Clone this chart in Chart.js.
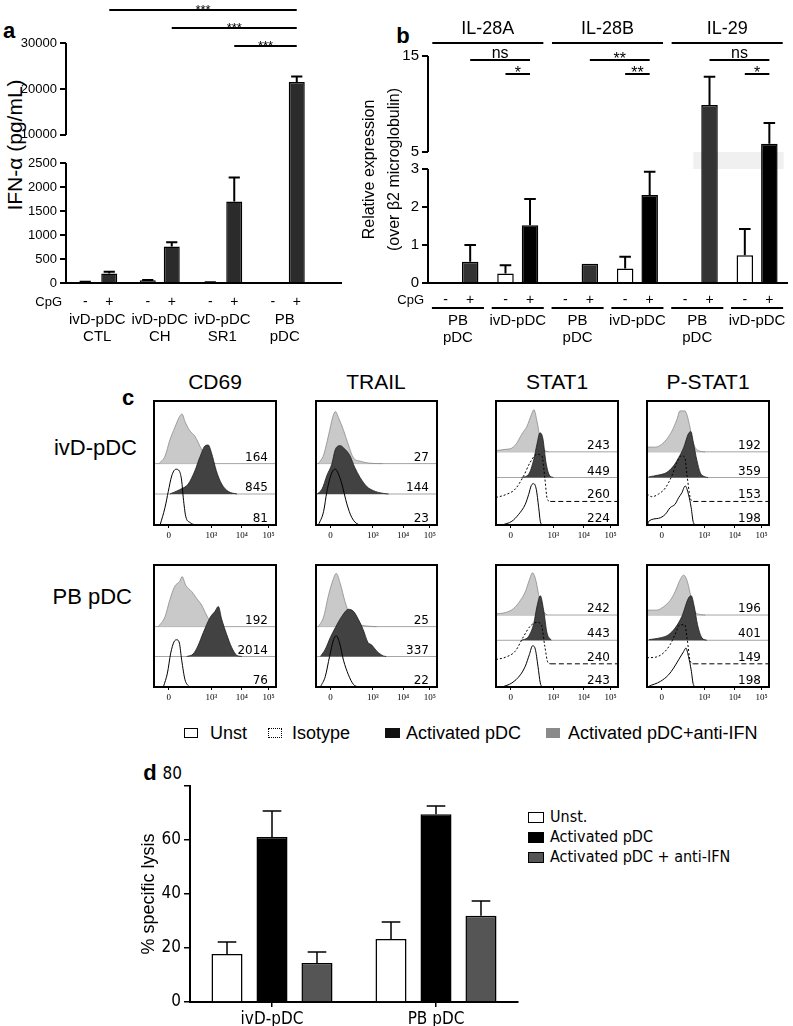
<!DOCTYPE html>
<html>
<head>
<meta charset="utf-8">
<script src="https://cdn.jsdelivr.net/npm/chart.js@4.4.1/dist/chart.umd.min.js"></script>
<style>
  body { margin: 0; background: #fff; }
  #page { position: relative; width: 793px; height: 1026px; overflow: hidden; font-family: "Liberation Sans", Arial, sans-serif; color: #000; }
  canvas { position: absolute; }
  .t { position: absolute; white-space: nowrap; line-height: 1; transform: translate(-50%, -50%); }
  .r { position: absolute; white-space: nowrap; line-height: 1; transform: translate(-100%, -50%); }
  .l { position: absolute; white-space: nowrap; line-height: 1; transform: translate(0, -50%); }
  .sw { position: absolute; box-sizing: border-box; }
  .nar { font-family: "Liberation Sans Narrow", "DejaVu Sans Condensed", "Liberation Sans", sans-serif; }
</style>
</head>
<body>
<div id="page">
  <div class="t" style="left:9px;top:31px;font-size:22px;font-weight:bold">a</div>
  <div class="t" style="left:403px;top:36px;font-size:22px;font-weight:bold">b</div>
  <div class="t" style="left:128px;top:398px;font-size:22px;font-weight:bold">c</div>
  <div class="t" style="left:150px;top:773px;font-size:22px;font-weight:bold">d</div>
  <div class="t" style="left:14px;top:145px;font-size:21px;transform:translate(-50%,-50%) rotate(-90deg)">IFN-α (pg/mL)</div>

  <div class="t" style="left:215px;top:381px;font-size:21px">CD69</div>
  <div class="t" style="left:376px;top:381px;font-size:21px">TRAIL</div>
  <div class="t" style="left:557px;top:381px;font-size:21px">STAT1</div>
  <div class="t" style="left:708px;top:381px;font-size:21px">P-STAT1</div>
  <div class="r" style="left:137px;top:448px;font-size:22px">ivD-pDC</div>
  <div class="r" style="left:132px;top:597px;font-size:22px">PB pDC</div>

  <!-- legend of panel c -->
  <div class="sw" style="left:184px;top:728px;width:14px;height:10px;border:1px solid #000;background:#fff"></div>
  <div class="l" style="left:210px;top:733px;font-size:18px">Unst</div>
  <div class="sw" style="left:268px;top:728px;width:14px;height:10px;border:1px dotted #000;background:#fff"></div>
  <div class="l" style="left:292px;top:733px;font-size:18px">Isotype</div>
  <div class="sw" style="left:385px;top:728px;width:15px;height:10px;background:#111"></div>
  <div class="l" style="left:406px;top:733px;font-size:18px">Activated pDC</div>
  <div class="sw" style="left:546px;top:728px;width:14px;height:10px;background:#8a8a8a"></div>
  <div class="l" style="left:568px;top:733px;font-size:18px">Activated pDC+anti-IFN</div>

  <!-- panel d: top tick label sits beside the letter, legend on the right -->
  <div class="r nar" style="left:182px;top:773px;font-size:17px">80</div>
  <div class="sw" style="left:528px;top:812px;width:16px;height:11px;border:1.5px solid #000;background:#fff"></div>
  <div class="l nar" style="left:550px;top:817px;font-size:16px">Unst.</div>
  <div class="sw" style="left:528px;top:832px;width:16px;height:11px;border:1.5px solid #000;background:#000"></div>
  <div class="l nar" style="left:550px;top:837px;font-size:16px">Activated pDC</div>
  <div class="sw" style="left:528px;top:852px;width:16px;height:11px;border:1.5px solid #000;background:#555"></div>
  <div class="l nar" style="left:550px;top:857px;font-size:16px">Activated pDC + anti-IFN</div>
</div>

<script>
// ---------- panel a : IFN-alpha secretion ----------
const groupsA = [['ivD-pDC', 'CTL'], ['ivD-pDC', 'CH'], ['ivD-pDC', 'SR1'], ['PB', 'pDC']];
const ifnMinus = [20, 55, 10, 0];
const ifnMinusErr = [8, 10, 4, 0];
const ifnPlus = [200, 760, 1700, 21500];
const ifnPlusErr = [35, 90, 500, 1200];
const ifnTicks = [0, 500, 1000, 1500, 2000, 2500, 10000, 20000, 30000];
// [dataset, group, dataset, group, label, row]
const sigA = [[1, 0, 1, 3, '***', 0], [1, 1, 1, 3, '***', 1], [1, 2, 1, 3, '***', 2]];

// ---------- panel b : IFN-lambda expression ----------
const genesB = ['IL-28A', 'IL-28B', 'IL-29'];
const cellsB = [['PB', 'pDC'], 'ivD-pDC', ['PB', 'pDC'], 'ivD-pDC', ['PB', 'pDC'], 'ivD-pDC'];
const ifnlMinus = [0, 0.25, 0, 0.38, 0, 0.73];
const ifnlMinusErr = [0, 0.22, 0, 0.31, 0, 0.69];
const ifnlPlus = [0.56, 1.52, 0.51, 2.32, 9.9, 5.87];
const ifnlPlusErr = [0.44, 0.69, 0, 0.61, 2.94, 2.15];
const ifnlTicks = [0, 1, 2, 3, 5, 15];
const sigB = [[1, 0, 1, 1, 'ns', 0], [0, 1, 1, 1, '*', 1], [1, 2, 1, 3, '**', 0],
              [0, 3, 1, 3, '**', 1], [1, 4, 1, 5, 'ns', 0], [0, 5, 1, 5, '*', 1]];

// ---------- panel c : flow histograms, [x % of axis, height % of box] ----------
const flowTickPos = [12, 47, 72, 94];
const flowTickLabels = ['0', '10³', '10⁴', '10⁵'];

const cd69IvdAnti = [[4,0],[9,6],[13,19],[17,29],[21,38],[23,40],[25.4,34],[29,27],[33.6,22],[37.7,14],[42,6],[47,0.5],[50,0]];
const cd69IvdAct = [[13,0],[21,3.5],[28,8],[33.6,19],[37.7,30],[42,39],[44.5,39.5],[47,33.6],[51,19],[55.5,8],[61,2],[68,0]];
const cd69IvdUnst = [[5,0],[9,14],[11.7,27],[14.5,39.5],[18,45],[20.8,43.5],[22.7,35.5],[24,22],[26,7],[29.5,2],[33.6,0]];
const cd69IvdMfi = [164, 845, 81];

const trailIvdAnti = [[2,0],[6.3,7],[10.4,23],[14,38],[16,42],[18.6,37],[22.7,27],[26.8,15],[31,4.6],[36.4,2],[44.7,0.3],[55,0]];
const trailIvdAct = [[1,0],[5,4],[9,15],[13,24],[16,36],[20,39],[24,36],[28,31],[32,21.5],[36.4,13.4],[42,6],[47.4,2.7],[55.6,0.5],[60,0]];
const trailIvdUnst = [[2,0],[6.3,11],[9,27],[13,42],[16,45],[18.6,41],[21.4,33],[25.5,17],[29.6,6],[35,0.5],[39,0]];
const trailIvdMfi = [27, 144, 23];

const stat1IvdAnti = [[0,1],[7.7,2],[13,3],[17,7],[21,14],[25.4,20.7],[29,30],[31,34],[33.6,24.7],[36.3,10],[39,2],[43,0]];
const stat1IvdAct = [[21,0],[26.8,2.7],[31,14.8],[33.6,27],[36,36],[38.3,32],[41,12],[43.7,2],[47,0]];
const stat1IvdIso = [[0,3.2],[7.7,5.4],[15.8,10],[22.7,20.7],[28,31.5],[33.6,38],[37.7,36.5],[40,19],[42,2],[44.5,0],[100,0]];
const stat1IvdUnst = [[5,0],[13,3],[18.6,8.6],[24,16.7],[26.8,24.7],[29,32],[31,33.3],[33,28.8],[35,14],[36.3,3],[37.7,0]];
const stat1IvdMfi = [243, 449, 260, 224];

const pstat1IvdAnti = [[0,0],[0.8,3.8],[6.8,3.8],[12,6],[16,10],[20.4,16.7],[24.5,26],[27,33],[31,33],[32.7,30],[35.4,19],[38,7],[42,1],[47.7,0]];
const pstat1IvdAct = [[1.4,0.5],[9.5,2],[16,4],[21.8,9.4],[25.9,16],[30,24],[34,35.5],[36,37],[38,28],[41,13.4],[43.6,4],[47.7,0.5],[50,0]];
const pstat1IvdIso = [[0,6],[4,3.8],[9.5,6],[15,10.8],[20.4,20.7],[24.5,31.5],[28,36.8],[31,35.5],[32.7,22],[35.4,3.2],[38,0],[100,0]];
const pstat1IvdUnst = [[0.5,0],[1.4,3],[9.5,5.4],[15,8.6],[19,14],[23,16.7],[25.9,22],[28.6,26],[31.3,31.5],[34,24.7],[36.2,14],[38,2],[40,0]];
const pstat1IvdMfi = [192, 359, 153, 198];

const cd69PbAnti = [[3.6,0],[9,8],[13,22],[17,33],[21,37],[23,41],[26,34],[31,28.6],[35,23],[39,17.7],[43,9.5],[47,2.7],[51,0]];
const cd69PbAct = [[26.8,0],[32,2],[36,8.7],[40.4,19.6],[46,32],[50,37],[52.7,41],[55.5,30.5],[59.6,18],[63.7,7.4],[67.8,1],[72,0]];
const cd69PbUnst = [[7.7,0],[11,11.4],[13.7,27.8],[16.4,37],[18.6,38.7],[20.8,36],[22.7,22],[25.4,6],[29,0]];
const cd69PbMfi = [192, 2014, 76];

const trailPbAnti = [[2,0],[6.3,8],[10.4,26],[14.5,39.5],[16.7,43.6],[20,35.4],[24,20.4],[28,9.5],[33.7,2.7],[42,0.5],[50,0]];
const trailPbAct = [[3.6,0],[7.7,6],[11.8,15.5],[16,23.7],[21.4,33],[26.8,38.7],[31,37],[35,30.5],[39,22],[43,11.4],[46,9.5],[50,4.6],[55.6,0.5],[58,0]];
const trailPbUnst = [[3.6,0],[7.7,8.7],[11.2,25],[14.5,38.7],[16.7,42],[19.5,36],[22.7,22],[26.8,10],[31,2],[35,0]];
const trailPbMfi = [25, 337, 22];

const stat1PbAnti = [[0,1],[7.7,2],[14.5,5.4],[20,12],[24,19],[27.3,28.6],[30,34.6],[33,27],[35.5,13.6],[38.3,4],[41.8,0]];
const stat1PbAct = [[21,0],[26.8,3.3],[31,14],[33.6,27.8],[36.3,36.5],[39,25],[41.8,6],[45.4,0]];
const stat1PbIso = [[0,3.5],[7.7,5.4],[15.8,10.4],[22.7,22.6],[28,30.8],[33.6,34],[37.2,32],[40,14.4],[42.6,1],[45,0],[100,0]];
const stat1PbUnst = [[5,0],[13,3.3],[20,10],[24,17],[27.3,26.4],[30,33.8],[32.2,31],[34.4,17],[36.3,3.3],[37.7,0]];
const stat1PbMfi = [242, 443, 240, 243];

const pstat1PbAnti = [[0,0],[0.8,4],[8,4],[13.6,6.8],[19,12],[23,19],[27,28.6],[30,32.7],[32.7,28.6],[35.4,17.7],[38,5.4],[42,0.8],[47.7,0]];
const pstat1PbAct = [[1.4,0.5],[11,2],[17.7,4.6],[23,10],[28.6,19.6],[34,34.6],[36.2,36.5],[38.7,27.8],[41.4,12.8],[45,2],[49,0]];
const pstat1PbIso = [[0,5],[6.8,5.4],[13.6,9],[19,15.8],[23,24],[27,32],[31,32],[33,20],[35.4,2.2],[38,0],[100,0]];
const pstat1PbUnst = [[0.5,0],[1.4,0.5],[11,4.6],[17.7,10],[21.8,15.5],[25.9,22.3],[30,29],[31.9,31.9],[34,25],[36.2,14],[38,2],[40,0]];
const pstat1PbMfi = [196, 401, 149, 198];

// ---------- panel d : cytotoxicity ----------
const groupsD = ['ivD-pDC', 'PB pDC'];
const lysisUnst = [17.8, 23.3];
const lysisUnstErr = [4.4, 6.3];
const lysisAct = [61.1, 69.5];
const lysisActErr = [9.6, 3.1];
const lysisAnti = [14.4, 31.9];
const lysisAntiErr = [4.1, 5.5];

Chart.defaults.font.family = '"Liberation Sans", Arial, sans-serif';
Chart.defaults.color = '#000';
const narrow = '"Liberation Sans Narrow", "DejaVu Sans Condensed", "Liberation Sans", sans-serif';

// linear scale with a gap (broken y axis, GraphPad style)
class BrokenScale extends Chart.LinearScale {
  getPixelForValue(value) {
    const b = this.options.brk;
    let f;
    if (value <= b.lo) f = value / b.lo * b.fLo;
    else if (value < b.hi) f = b.fLo + (value - b.lo) / (b.hi - b.lo) * b.fGap;
    else f = b.fLo + b.fGap + (value - b.hi) / (this.max - b.hi) * (1 - b.fLo - b.fGap);
    return this.getPixelForDecimal(f);
  }
}
BrokenScale.id = 'broken';
BrokenScale.defaults = {};
Chart.register(BrokenScale);

function makeCanvas(left, top, w, h) {
  const c = document.createElement('canvas');
  c.width = w; c.height = h;
  c.style.left = left + 'px'; c.style.top = top + 'px';
  c.style.width = w + 'px'; c.style.height = h + 'px';
  document.getElementById('page').appendChild(c);
  return c;
}

function errorBars(capFrac, lw) {
  return {
    id: 'errorBars',
    afterDatasetsDraw(chart) {
      const ctx = chart.ctx, y = chart.scales.y;
      ctx.save();
      ctx.strokeStyle = '#000';
      ctx.lineWidth = lw;
      chart.data.datasets.forEach((ds, i) => {
        if (!ds.errors) return;
        chart.getDatasetMeta(i).data.forEach((bar, j) => {
          const e = ds.errors[j];
          if (!e) return;
          const top = y.getPixelForValue(ds.data[j] + e);
          const hw = bar.width * capFrac / 2;
          ctx.beginPath();
          ctx.moveTo(bar.x, bar.y);
          ctx.lineTo(bar.x, top);
          ctx.moveTo(bar.x - hw, top);
          ctx.lineTo(bar.x + hw, top);
          ctx.stroke();
        });
      });
      ctx.restore();
    }
  };
}

function sigLines(sigs, y0, dy, size) {
  return {
    id: 'sigLines',
    afterDraw(chart) {
      const ctx = chart.ctx;
      ctx.save();
      ctx.strokeStyle = '#000';
      ctx.fillStyle = '#000';
      ctx.lineWidth = 2;
      ctx.font = size + 'px "Liberation Sans"';
      ctx.textAlign = 'center';
      ctx.textBaseline = 'alphabetic';
      sigs.forEach(([d1, c1, d2, c2, label, row]) => {
        const x1 = chart.getDatasetMeta(d1).data[c1].x;
        const x2 = chart.getDatasetMeta(d2).data[c2].x;
        const yy = y0 + row * dy;
        ctx.beginPath();
        ctx.moveTo(x1, yy);
        ctx.lineTo(x2, yy);
        ctx.stroke();
        ctx.fillText(label, (x1 + x2) / 2, label.includes('*') ? yy + 4 : yy - 2);
      });
      ctx.restore();
    }
  };
}

// "CpG  -  +" row under the bars
function cpgRow(yOff) {
  return {
    id: 'cpgRow',
    afterDraw(chart) {
      const ctx = chart.ctx, area = chart.chartArea, yy = area.bottom + yOff;
      ctx.save();
      ctx.fillStyle = '#000';
      ctx.font = '14px "Liberation Sans"';
      ctx.textBaseline = 'middle';
      ctx.textAlign = 'center';
      chart.data.datasets.forEach((ds, i) => {
        chart.getDatasetMeta(i).data.forEach(bar => ctx.fillText(ds.label, bar.x, yy));
      });
      ctx.font = '13px "Liberation Sans"';
      ctx.textAlign = 'right';
      ctx.fillText('CpG', area.left - 4, yy);
      ctx.restore();
    }
  };
}

const brokenAxis = {
  id: 'brokenAxis',
  afterDraw(chart) {
    const y = chart.scales.y, b = y.options.brk, ctx = chart.ctx, x = chart.chartArea.left;
    ctx.save();
    ctx.strokeStyle = '#000';
    ctx.lineWidth = 2;
    ctx.beginPath();
    ctx.moveTo(x, y.getPixelForValue(0) + 1);
    ctx.lineTo(x, y.getPixelForValue(b.lo));
    ctx.moveTo(x, y.getPixelForValue(b.hi));
    ctx.lineTo(x, y.getPixelForValue(y.max));
    ctx.stroke();
    ctx.restore();
  }
};

function brokenY(max, brk, ticks, width, size) {
  return {
    type: 'broken', min: 0, max: max, brk: brk,
    afterBuildTicks: s => { s.ticks = ticks.map(v => ({ value: v })); },
    afterFit: s => { s.width = width; },
    ticks: { color: '#000', font: { size: size }, padding: 3, autoSkip: false, callback: v => String(v) },
    grid: { drawOnChartArea: false, drawTicks: true, tickLength: 6, color: '#000', lineWidth: 2 },
    border: { display: false }
  };
}

// category axis whose labels sit well below the line; the gap comes from
// invisible tick marks so that the label padding does not shrink the plot
function lowLabelX(gap) {
  return {
    grid: { display: true, drawOnChartArea: false, drawTicks: true, tickLength: gap, color: 'rgba(0,0,0,0)' },
    border: { color: '#000', width: 2 },
    ticks: { color: '#000', font: { size: 15, lineHeight: 1.15 }, padding: 2, maxRotation: 0, autoSkip: false },
    afterFit: s => { s.height = 62; }
  };
}

// ---------- chart a ----------
new Chart(makeCanvas(0, 0, 360, 345), {
  type: 'bar',
  data: {
    labels: groupsA,
    datasets: [
      { label: '-', data: ifnMinus, errors: ifnMinusErr, backgroundColor: '#2b2b2b', borderColor: '#000', borderWidth: 1.5 },
      { label: '+', data: ifnPlus, errors: ifnPlusErr, backgroundColor: '#2b2b2b', borderColor: '#000', borderWidth: 1.5 }
    ]
  },
  options: {
    responsive: false, animation: false, events: [],
    layout: { padding: { top: 43, left: 0, right: 44, bottom: 0 } },
    datasets: { bar: { categoryPercentage: 0.768, barPercentage: 0.667 } },
    plugins: { legend: { display: false }, tooltip: { enabled: false } },
    scales: {
      x: lowLabelX(26),
      y: brokenY(30000, { lo: 2500, hi: 10000, fLo: 0.5, fGap: 0.117 }, ifnTicks, 66, 13)
    }
  },
  plugins: [errorBars(0.7, 2), brokenAxis, cpgRow(19), sigLines(sigA, 10, 18, 13), {
    id: 'xExtend',
    afterDraw(chart) {
      const a = chart.chartArea, ctx = chart.ctx;
      ctx.save();
      ctx.strokeStyle = '#000';
      ctx.lineWidth = 2;
      ctx.beginPath();
      ctx.moveTo(a.right - 1, a.bottom);
      ctx.lineTo(a.right + 26, a.bottom);
      ctx.stroke();
      ctx.restore();
    }
  }]
});

// ---------- chart b ----------
new Chart(makeCanvas(350, 0, 443, 345), {
  type: 'bar',
  data: {
    labels: cellsB,
    datasets: [
      { label: '-', data: ifnlMinus, errors: ifnlMinusErr, backgroundColor: '#fff', borderColor: '#000', borderWidth: 1.5 },
      { label: '+', data: ifnlPlus, errors: ifnlPlusErr, backgroundColor: cellsB.map((c, i) => i % 2 ? '#000' : '#333'), borderColor: '#000', borderWidth: 1.5 }
    ]
  },
  options: {
    responsive: false, animation: false, events: [],
    layout: { padding: { top: 0, left: 0, right: 6, bottom: 0 } },
    datasets: { bar: { categoryPercentage: 0.82, barPercentage: 0.673 } },
    plugins: { legend: { display: false }, tooltip: { enabled: false } },
    scales: {
      x: lowLabelX(27),
      x2: {
        type: 'category', labels: genesB, position: 'top', offset: true,
        grid: { display: true, drawOnChartArea: false, drawTicks: true, tickLength: 14, color: 'rgba(0,0,0,0)' },
        border: { display: false },
        ticks: { color: '#000', font: { size: 18 }, padding: 2, maxRotation: 0 },
        afterFit: s => { s.height = 56; }
      },
      y: Object.assign(brokenY(15, { lo: 3, hi: 5, fLo: 0.502, fGap: 0.075 }, ifnlTicks, 78, 15), {
        title: { display: true, text: ['Relative expression', '(over β2 microglobulin)'], color: '#000',
                 font: { size: 16, lineHeight: 1.55 }, padding: { top: 7.6, bottom: 0 } }
      })
    }
  },
  plugins: [{
    // light band marking the axis break behind the IL-29 bars that cross it
    id: 'breakBand',
    beforeDatasetsDraw(chart) {
      const y = chart.scales.y, ctx = chart.ctx;
      const first = chart.getDatasetMeta(1).data[4], last = chart.getDatasetMeta(1).data[5];
      const l = first.x - first.width / 2 - 8, r = last.x + last.width / 2 + 6;
      ctx.save();
      ctx.fillStyle = '#f0f0f0';
      ctx.fillRect(l, y.getPixelForValue(5), r - l, y.getPixelForValue(3) - y.getPixelForValue(5));
      ctx.restore();
    }
  }, errorBars(0.7, 2), brokenAxis, cpgRow(17), sigLines(sigB, 60, 14, 16), {
    id: 'groupLines',
    afterDraw(chart) {
      const x = chart.scales.x, x2 = chart.scales.x2, a = chart.chartArea, ctx = chart.ctx;
      const w = (a.right - a.left) / cellsB.length, w2 = (a.right - a.left) / genesB.length;
      ctx.save();
      ctx.strokeStyle = '#000';
      ctx.lineWidth = 2;
      ctx.beginPath();
      cellsB.forEach((c, i) => {
        const cx = x.getPixelForTick(i);
        ctx.moveTo(cx - 0.435 * w, a.bottom + 25);
        ctx.lineTo(cx + 0.435 * w, a.bottom + 25);
      });
      genesB.forEach((g, i) => {
        const cx = x2.getPixelForTick(i);
        ctx.moveTo(cx - 0.464 * w2, 43);
        ctx.lineTo(cx + 0.464 * w2, 43);
      });
      ctx.stroke();
      ctx.restore();
    }
  }]
});

// ---------- panel c : flow histograms ----------
function flowChart(left, top, w, h, lanes, mfi, anti, act, iso, unst) {
  const mk = (pts, base) => pts.map(p => ({ x: p[0], y: base + p[1] }));
  const n = lanes.length;
  const baseAnti = lanes[0], baseAct = lanes[1], baseUnst = lanes[n - 1];
  const datasets = [{ data: mk(unst, baseUnst), borderColor: '#000', borderWidth: 1, fill: false }];
  if (iso) {
    const baseIso = lanes[n - 2];
    datasets.push({
      data: mk(iso, baseIso), borderColor: '#000', borderWidth: 1, fill: false,
      segment: { borderDash: c => (c.p0.parsed.y - baseIso < 0.01 && c.p1.parsed.y - baseIso < 0.01) ? [5, 3] : [2, 2] }
    });
  }
  datasets.push({ data: mk(act, baseAct), borderColor: '#1e1e1e', borderWidth: 0.8, backgroundColor: '#424242', fill: { value: baseAct } });
  datasets.push({ data: mk(anti, baseAnti), borderColor: '#8c8c8c', borderWidth: 0.8, backgroundColor: '#c9c9c9', fill: { value: baseAnti } });
  [baseAct, baseAnti].forEach(b => datasets.push({
    data: [{ x: 0, y: b }, { x: 100, y: b }], borderColor: '#a5a5a5', borderWidth: 1, fill: false
  }));

  new Chart(makeCanvas(left - 4, top - 4, w + 8, h + 24), {
    type: 'line',
    data: { datasets: datasets },
    options: {
      responsive: false, animation: false, events: [],
      layout: { padding: { top: 4, left: 4, right: 4, bottom: 0 } },
      elements: { point: { radius: 0 }, line: { cubicInterpolationMode: 'monotone' } },
      plugins: { legend: { display: false }, tooltip: { enabled: false } },
      scales: {
        x: {
          type: 'linear', min: 0, max: 100,
          afterBuildTicks: s => { s.ticks = flowTickPos.map(v => ({ value: v })); },
          afterFit: s => { s.height = 20; },
          ticks: { callback: (v, i) => flowTickLabels[i], color: '#000', font: { family: '"Liberation Serif", serif', size: 9 },
                   padding: 2, maxRotation: 0, autoSkip: false },
          grid: { drawOnChartArea: false, drawTicks: true, tickLength: 3, color: '#000' },
          border: { display: false }
        },
        y: { display: false, min: 0, max: 100 }
      }
    },
    plugins: [{
      id: 'flowFrame',
      afterDraw(chart) {
        const a = chart.chartArea, ctx = chart.ctx, y = chart.scales.y;
        ctx.save();
        ctx.strokeStyle = '#000';
        ctx.lineWidth = 2;
        ctx.strokeRect(a.left, a.top, a.right - a.left, a.bottom - a.top);
        ctx.fillStyle = '#000';
        ctx.font = '12px "DejaVu Sans"';
        ctx.textAlign = 'right';
        ctx.textBaseline = 'alphabetic';
        lanes.forEach((b, k) => ctx.fillText(String(mfi[k]), a.right - 8, y.getPixelForValue(b) - 3));
        ctx.restore();
      }
    }]
  });
}

const lanes3 = [49.5, 25, 0];
const lanes4 = [59, 38.3, 19, 0];
flowChart(154, 401, 122, 124, lanes3, cd69IvdMfi, cd69IvdAnti, cd69IvdAct, null, cd69IvdUnst);
flowChart(316, 401, 121, 124, lanes3, trailIvdMfi, trailIvdAnti, trailIvdAct, null, trailIvdUnst);
flowChart(496, 401, 122, 124, lanes4, stat1IvdMfi, stat1IvdAnti, stat1IvdAct, stat1IvdIso, stat1IvdUnst);
flowChart(647, 401, 122, 124, lanes4, pstat1IvdMfi, pstat1IvdAnti, pstat1IvdAct, pstat1IvdIso, pstat1IvdUnst);
flowChart(154, 565, 122, 122, lanes3, cd69PbMfi, cd69PbAnti, cd69PbAct, null, cd69PbUnst);
flowChart(316, 565, 121, 122, lanes3, trailPbMfi, trailPbAnti, trailPbAct, null, trailPbUnst);
flowChart(496, 565, 122, 122, lanes4, stat1PbMfi, stat1PbAnti, stat1PbAct, stat1PbIso, stat1PbUnst);
flowChart(647, 565, 122, 122, lanes4, pstat1PbMfi, pstat1PbAnti, pstat1PbAct, pstat1PbIso, pstat1PbUnst);

// ---------- chart d ----------
new Chart(makeCanvas(100, 760, 440, 266), {
  type: 'bar',
  data: {
    labels: groupsD,
    datasets: [
      { label: 'Unst.', data: lysisUnst, errors: lysisUnstErr, backgroundColor: '#fff', borderColor: '#000', borderWidth: 1.5 },
      { label: 'Activated pDC', data: lysisAct, errors: lysisActErr, backgroundColor: '#000', borderColor: '#000', borderWidth: 1.5 },
      { label: 'Activated pDC + anti-IFN', data: lysisAnti, errors: lysisAntiErr, backgroundColor: '#555', borderColor: '#000', borderWidth: 1.5 }
    ]
  },
  options: {
    responsive: false, animation: false, events: [],
    layout: { padding: { top: 26, left: 0, right: 22, bottom: 0 } },
    datasets: { bar: { categoryPercentage: 0.823, barPercentage: 0.69 } },
    plugins: { legend: { display: false }, tooltip: { enabled: false } },
    scales: {
      x: {
        grid: { display: true, drawOnChartArea: false, offset: false, drawTicks: true, tickLength: 5, color: '#000', lineWidth: 1.5 },
        border: { color: '#000', width: 2 },
        ticks: { color: '#000', font: { family: narrow, size: 17 }, padding: 2, maxRotation: 0 },
        afterFit: s => { s.height = 24; }
      },
      y: {
        min: 0, max: 80,
        ticks: { stepSize: 20, color: '#000', font: { family: narrow, size: 17 }, padding: 3,
                 callback: v => (v === 80 ? '' : String(v)) },
        grid: { drawOnChartArea: false, drawTicks: true, tickLength: 6, color: '#000', lineWidth: 1.5 },
        border: { color: '#000', width: 2 },
        title: { display: true, text: '% specific lysis', color: '#000', font: { size: 18 }, padding: { top: 38, bottom: 0 } },
        afterFit: s => { s.width = 90; }
      }
    }
  },
  plugins: [errorBars(0.6, 1.5)]
});
</script>
</body>
</html>
